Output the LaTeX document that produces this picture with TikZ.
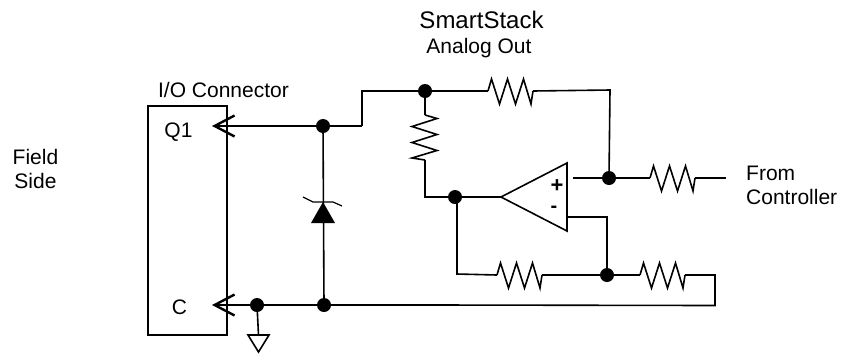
\documentclass[tikz,border=0pt]{standalone}
\usepackage{fontspec}
\setmainfont{Liberation Sans}
\usetikzlibrary{arrows.meta}
\tikzset{
  wire/.style={line width=1.6pt},
  bus/.style={line width=2.8pt},
  pinwire/.style={bus,-{Straight Barb[length=20pt,width=21pt,line width=2.4pt]}},
  dot/.style={circle,fill=black,inner sep=0pt,minimum size=14pt},
  lbl/.style={inner sep=0pt,anchor=base,font=\fontsize{21}{24}\selectfont},
  resistor/.pic={
    \coordinate (-a) at (0,0);
    \coordinate (-b) at (45,0);
    \draw[wire] (-a) -- (3.5,-12) -- (11.5,13) -- (19.5,-12) -- (27.5,13) -- (35.5,-12) -- (43,13) -- (-b);
  }
}

\begin{document}
\begin{tikzpicture}[x=1pt,y=-1pt]
  \useasboundingbox (0,0) rectangle (842,354);
  % labels
  \node[lbl,font=\fontsize{24}{24}\selectfont] (smart) at (481.5,28) {SmartStack};
  \node[lbl] (analog) at (479,53) {Analog Out};
  \node[lbl] (iocon) at (223.5,97) {I/O Connector};
  \node[lbl] (q1) at (178.5,137) {Q1};
  \node[lbl] (c) at (179.5,314) {C};
  \node[lbl] (field) at (35.5,164) {Field};
  \node[lbl] (side) at (35.5,188) {Side};
  \node[lbl,anchor=base west] (from) at (746,180) {From};
  \node[lbl,anchor=base west] (ctrl) at (746,204) {Controller};
  % connector block
  \node[draw,wire,minimum width=79pt,minimum height=229pt,inner sep=0pt] (block) at (187.5,220.5) {};
  \coordinate (q1pin) at (212,126);
  \coordinate (cpin) at (212,305);
  % junctions
  \node[dot] (j_q1) at (323,126) {};
  \node[dot] (j_c) at (324,305) {};
  \node[dot] (j_gnd) at (257,305) {};
  \node[dot] (j_top) at (425,91) {};
  \node[dot] (j_inv) at (455,197) {};
  \node[dot] (j_out) at (609,178) {};
  \node[dot] (j_fb) at (607,275) {};
  % resistors
  \pic (r_top) at (488,91) {resistor};
  \pic[rotate=-90] (r_v) at (425,115) {resistor};
  \pic (r_in) at (650,178) {resistor};
  \pic (r_fb) at (497,275) {resistor};
  \pic (r_gnd) at (640,275) {resistor};
  % op amp
  \coordinate (amp_tip) at (501,197);
  \coordinate (amp_top) at (567,163);
  \coordinate (amp_bot) at (567,231);
  \draw[wire] (amp_tip) -- (amp_top) -- (amp_bot) -- cycle;
  \node[inner sep=0pt,font=\fontsize{22}{24}\bfseries] (plus) at (557,186) {+};
  \node[inner sep=0pt,font=\fontsize{20}{24}\bfseries] (minus) at (554,209) {-};
  % zener
  \coordinate (z_a) at (323,202);
  \fill (z_a) -- (335,223) -- (311,223) -- cycle;
  \draw[line width=1.2pt] (303,197) -- (313,202) -- (333,202) -- (342,206);
  % wires
  \coordinate (k1) at (362,126);
  \coordinate (k2) at (362,91);
  \draw[pinwire] (k1) -- (q1pin);
  \draw[pinwire] (j_c) -- (cpin);
  \draw[wire] (k1) -- (k2) -- (j_top);
  \draw[wire] (j_q1) -- (j_c);
  \draw[line width=2pt] (j_top) -- (r_top-a);
  \coordinate (k3) at (610,90);
  \draw[wire] (r_top-b) -- (k3) -- (j_out);
  \draw[wire] (j_top) -- (r_v-a);
  \coordinate (k4) at (425,197);
  \draw[wire] (r_v-b) -- (k4) -- (amp_tip);
  \coordinate (o1) at (573,178);
  \coordinate (o2) at (726,178);
  \draw[wire] (o1) -- (r_in-a);
  \draw[wire] (r_in-b) -- (o2);
  \coordinate (k5) at (567,217);
  \coordinate (k6) at (607,217);
  \draw[wire] (k5) -- (k6) -- (j_fb);
  \coordinate (k7) at (457,197);
  \coordinate (k8) at (457,274);
  \draw[wire] (k7) -- (k8) -- (r_fb-a);
  \draw[wire] (r_fb-b) -- (j_fb) -- (r_gnd-a);
  \coordinate (k9) at (715,275);
  \coordinate (k10) at (715,305.5);
  \coordinate (k11) at (436,305);
  \draw[wire] (r_gnd-b) -- (k9) -- (k10) -- (k11);
  \draw[bus] (k11) -- (j_c);
  % ground
  \coordinate (g_l) at (248,335);
  \coordinate (g_r) at (269,335);
  \coordinate (g_b) at (258.5,352);
  \draw[wire] (j_gnd) -- (258.5,335);
  \draw[wire] (g_l) -- (g_r) -- (g_b) -- cycle;
\end{tikzpicture}
\end{document}
